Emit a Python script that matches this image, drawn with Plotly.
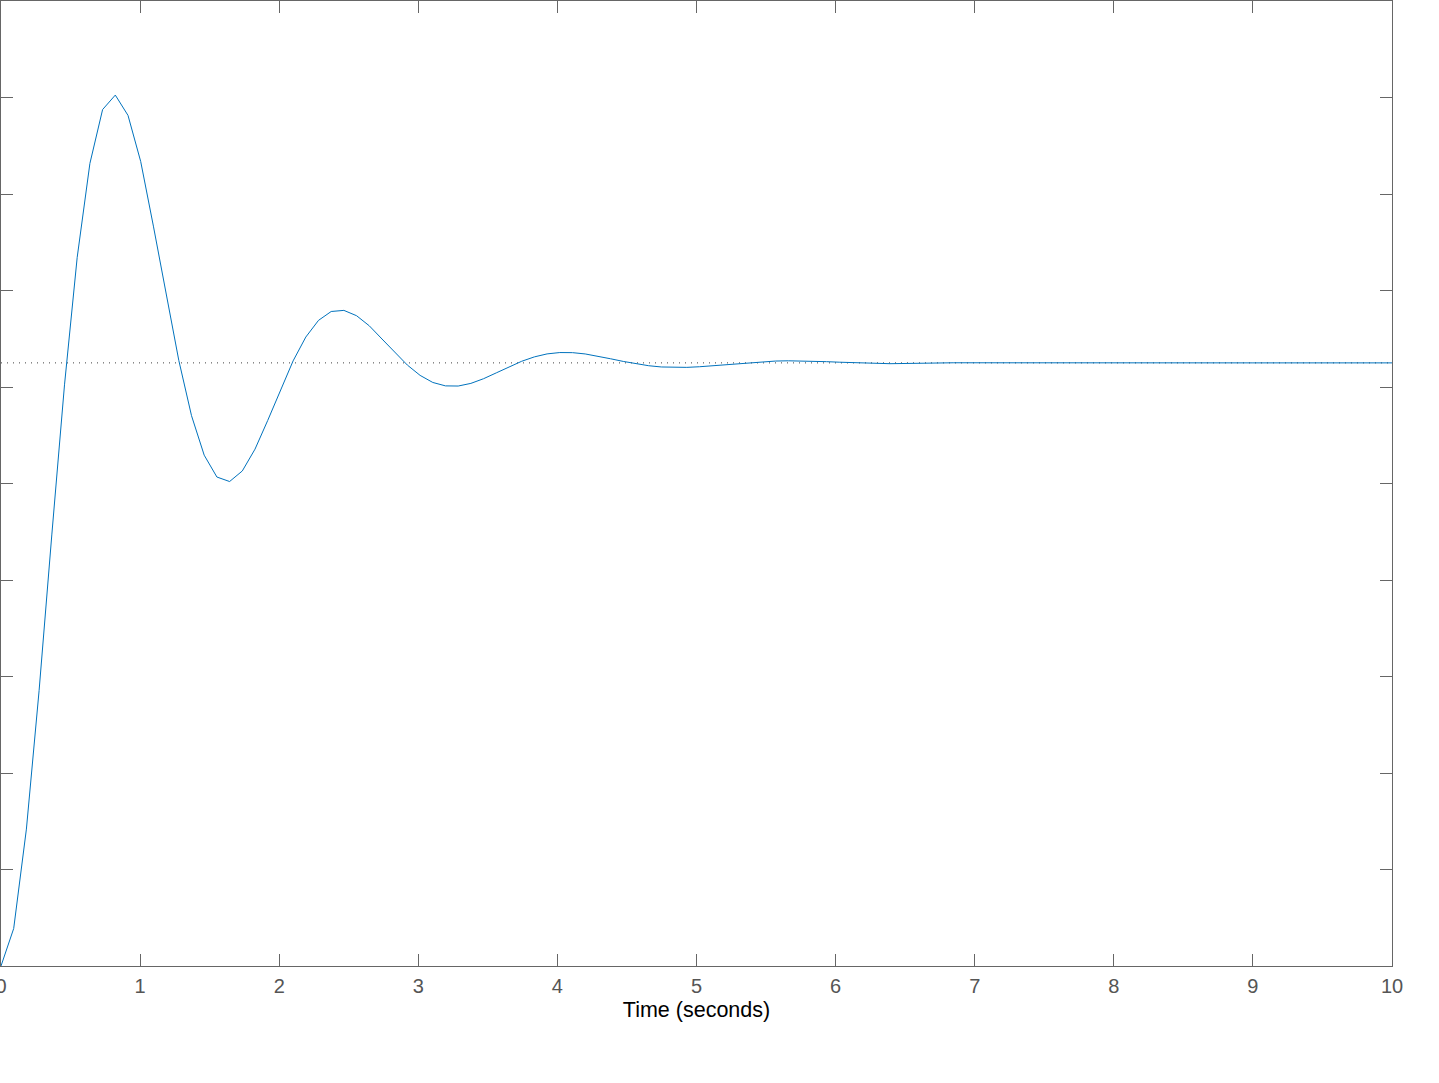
import plotly.graph_objects as go

# step response samples
time_s = [
    0.0, 0.0913, 0.1826, 0.2739, 0.3652, 0.4565, 0.5478, 0.6391, 0.7304, 0.8217,
    0.9130, 1.0043, 1.0956, 1.1869, 1.2782, 1.3695, 1.4608, 1.5521, 1.6434, 1.7347,
    1.8260, 1.9173, 2.0086, 2.0999, 2.1912, 2.2825, 2.3738, 2.4651, 2.5564, 2.6477,
    2.7390, 2.8303, 2.9216, 3.0129, 3.1042, 3.1955, 3.2868, 3.3781, 3.4694, 3.5607,
    3.6520, 3.7433, 3.8346, 3.9259, 4.0172, 4.1085, 4.1998, 4.2911, 4.3824, 4.4737,
    4.5650, 4.6563, 4.7476, 4.8389, 4.9302, 5.0215, 5.1128, 5.2041, 5.2954, 5.3867,
    5.4780, 5.5693, 5.6606, 5.7519, 5.8432, 5.9345, 6.0258, 6.1171, 6.2084, 6.2997,
    6.3910, 6.85, 7.3, 8.0, 9.0, 10.0,
]
response = [
    0.0, 0.0777, 0.2837, 0.5709, 0.8934, 1.2045, 1.4687, 1.6633, 1.7750, 1.8050,
    1.7629, 1.6674, 1.5334, 1.3918, 1.2551, 1.1406, 1.0587, 1.0134, 1.0041, 1.0260,
    1.0712, 1.1306, 1.1943, 1.2541, 1.3035, 1.3381, 1.3565, 1.3588, 1.3477, 1.3268,
    1.2995, 1.2715, 1.2454, 1.2241, 1.2094, 1.2023, 1.2020, 1.2075, 1.2172, 1.2293,
    1.2418, 1.2533, 1.2624, 1.2686, 1.2714, 1.2712, 1.2685, 1.2640, 1.2585, 1.2530,
    1.2480, 1.2441, 1.2415, 1.2404, 1.2407, 1.2420, 1.2440, 1.2465, 1.2489, 1.2511,
    1.2528, 1.2538, 1.2543, 1.2541, 1.2535, 1.2525, 1.2514, 1.2504, 1.2494, 1.2487,
    1.2483, 1.2502, 1.2499, 1.2500, 1.2500, 1.2500,
]
steady_x = [0, 10]
steady_y = [1.25, 1.25]

axis_col = "#666666"

fig = go.Figure()
fig.add_trace(go.Scatter(
    x=steady_x, y=steady_y, mode="lines",
    line=dict(color="#404040", width=1, dash="1px,5px"),
    hoverinfo="skip",
))
fig.add_trace(go.Scatter(
    x=time_s, y=response, mode="lines",
    line=dict(color="#0072BD", width=1),
))

fig.update_layout(
    width=1439, height=1083,
    paper_bgcolor="white", plot_bgcolor="white",
    showlegend=False,
    margin=dict(l=1, r=47, t=1, b=117),
    font=dict(family="Liberation Sans, Arial, sans-serif"),
)
fig.update_xaxes(
    range=[0, 10], dtick=1, showgrid=False, zeroline=False, automargin=False,
    showline=True, linecolor=axis_col, linewidth=1, mirror="ticks",
    ticks="inside", ticklen=12, tickcolor=axis_col,
    ticklabeloverflow="allow", ticklabelstandoff=2,
    tickfont=dict(size=20, color="#555555"),
    title=dict(text="Time (seconds)", font=dict(size=21.5, color="black"), standoff=5),
)
fig.update_yaxes(
    range=[0, 2], dtick=0.2, showgrid=False, zeroline=False, automargin=False,
    showline=True, linecolor=axis_col, linewidth=1, mirror="ticks",
    ticks="inside", ticklen=12, tickcolor=axis_col,
    showticklabels=False,
)

# page body has a default 8px margin; drop it so the axes sit at the corner
fig.write_html(
    "out.html",
    config={"displayModeBar": False},
    post_script="document.body.style.margin='0';",
)
